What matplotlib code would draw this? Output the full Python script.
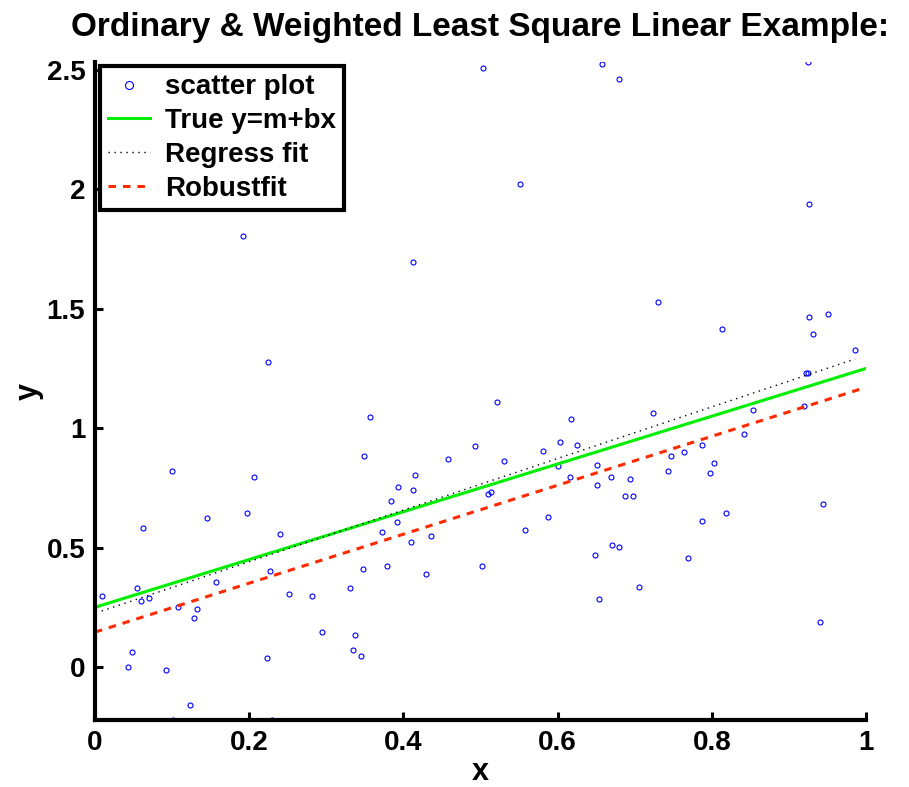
import matplotlib
matplotlib.use("Agg")
import numpy as np
from matplotlib import pyplot as plt

plt.rcParams['font.family'] = ['Liberation Sans', 'DejaVu Sans']
plt.rcParams['font.weight'] = 'bold'
plt.rcParams['lines.scale_dashes'] = False

# scatter data
x_pts = [0.0087, 0.0627, 0.0549, 0.0597, 0.0696, 0.0432, 0.0484, 0.0921, 0.1016, 0.1236,
         0.108, 0.132, 0.128, 0.1453, 0.1569, 0.1976, 0.240, 0.2274, 0.2227, 0.230,
         0.252, 0.2818, 0.2948, 0.3303, 0.347, 0.334, 0.3372, 0.3446, 0.2248, 0.1003,
         0.2062, 0.3493, 0.3567, 0.1924, 0.5218, 0.6174, 0.4925, 0.4583, 0.5305, 0.5807,
         0.6027, 0.6256, 0.601, 0.6515, 0.6157, 0.651, 0.6697, 0.4146, 0.3934, 0.412,
         0.3839, 0.3917, 0.3727, 0.4103, 0.4362, 0.5093, 0.514, 0.588, 0.5577, 0.379,
         0.4289, 0.5024, 0.649, 0.670, 0.6796, 0.654, 0.7306, 0.8137, 0.926, 0.951,
         0.9316, 0.986, 0.922, 0.925, 0.724, 0.853, 0.9196, 0.8418, 0.7877, 0.764,
         0.7467, 0.8032, 0.798, 0.7436, 0.6939, 0.687, 0.698, 0.7877, 0.819, 0.7687,
         0.706, 0.9447, 0.9403, 0.5037, 0.6576, 0.680, 0.5517, 0.412, 0.9244, 0.9265]
y_pts = [0.298, 0.580, 0.330, 0.275, 0.290, 0.001, 0.061, -0.011, -0.222, -0.158,
         0.250, 0.243, 0.204, 0.625, 0.355, 0.646, 0.557, 0.404, 0.039, -0.220,
         0.304, 0.296, 0.148, 0.329, 0.410, 0.071, 0.132, 0.048, 1.275, 0.822,
         0.796, 0.882, 1.047, 1.804, 1.108, 1.040, 0.925, 0.869, 0.8625, 0.904,
         0.944, 0.930, 0.842, 0.844, 0.796, 0.7625, 0.794, 0.805, 0.754, 0.740,
         0.696, 0.607, 0.564, 0.525, 0.548, 0.723, 0.732, 0.626, 0.572, 0.421,
         0.3875, 0.4235, 0.468, 0.510, 0.501, 0.283, 1.527, 1.417, 1.464, 1.480,
         1.393, 1.326, 1.229, 1.229, 1.064, 1.075, 1.093, 0.9775, 0.929, 0.901,
         0.885, 0.855, 0.814, 0.821, 0.789, 0.714, 0.714, 0.6125, 0.644, 0.455,
         0.336, 0.683, 0.190, 2.508, 2.525, 2.4625, 2.021, 1.697, 2.533, 1.940]

# line coefficients (intercept, slope)
true_coef = [0.25, 1.0]
regress_coef = [0.225, 1.08]
robust_coef = [0.146, 1.025]

x_pts = np.array(x_pts)
y_pts = np.array(y_pts)

fig = plt.figure(figsize=(9.09, 7.87), dpi=100)
ax = fig.add_axes([0.1045, 0.0851, 0.8482, 0.8361])

ax.plot(x_pts, y_pts, 'o', mfc='none', mec='b', ms=3.6, mew=0.8, label='scatter plot')

xl = np.array([0.0, 1.0])
xs = np.array([x_pts.min(), x_pts.max()])
ax.plot(xl, true_coef[0] + true_coef[1] * xl, color='#00ee00', lw=2.2, label='True y=m+bx')
ax.plot(xs, regress_coef[0] + regress_coef[1] * xs, color='k', lw=1.0,
        linestyle=(0, (1, 3.3)), label='Regress fit')
ax.plot(xl, robust_coef[0] + robust_coef[1] * xl, color='#ff2a00', lw=2.2,
        linestyle=(0, (5.4, 5)), label='Robustfit')

ax.set_xlim(0, 1)
ax.set_ylim(y_pts.min(), y_pts.max())
ax.set_xticks([0, 0.2, 0.4, 0.6, 0.8, 1])
ax.set_xticklabels(['0', '0.2', '0.4', '0.6', '0.8', '1'])
ax.set_yticks([0, 0.5, 1, 1.5, 2, 2.5])
ax.set_yticklabels(['0', '0.5', '1', '1.5', '2', '2.5'])
ax.tick_params(direction='in', length=6, width=2.2, labelsize=20, pad=7)
for side in ['top', 'right']:
    ax.spines[side].set_visible(False)
for side in ['left', 'bottom']:
    ax.spines[side].set_linewidth(3)

ax.set_xlabel('x', fontsize=22, fontweight='bold', labelpad=1)
ax.set_ylabel('y', fontsize=22, fontweight='bold', labelpad=2)
ax.set_title('Ordinary & Weighted Least Square Linear Example:', fontsize=24,
             fontweight='bold', pad=19)

leg = ax.legend(loc='upper left', bbox_to_anchor=(0.0065, 0.994), borderaxespad=0,
                fancybox=False, framealpha=1, edgecolor='k', markerscale=1.6,
                prop={'size': 20, 'weight': 'bold'}, handlelength=1.5,
                handletextpad=0.55, labelspacing=0.28, borderpad=0.3)
leg.get_frame().set_linewidth(3)

fig.savefig('out.png', dpi=100)
